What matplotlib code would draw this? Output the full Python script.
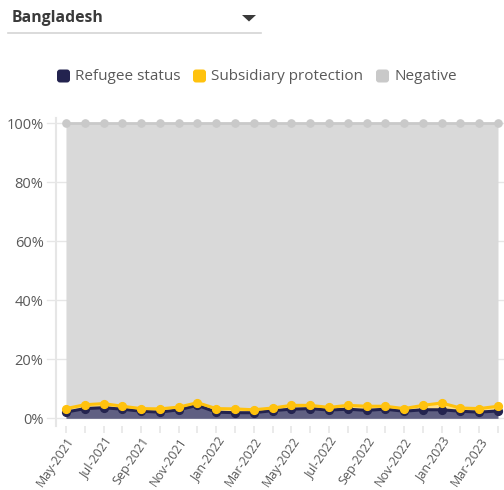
import matplotlib
matplotlib.use('Agg')
import matplotlib.pyplot as plt
from matplotlib.lines import Line2D
from matplotlib.patches import Polygon, FancyBboxPatch
import numpy as np

# Monthly decision shares (%) for Bangladesh
months = ['May-2021', 'Jun-2021', 'Jul-2021', 'Aug-2021', 'Sep-2021', 'Oct-2021',
          'Nov-2021', 'Dec-2021', 'Jan-2022', 'Feb-2022', 'Mar-2022', 'Apr-2022',
          'May-2022', 'Jun-2022', 'Jul-2022', 'Aug-2022', 'Sep-2022', 'Oct-2022',
          'Nov-2022', 'Dec-2022', 'Jan-2023', 'Feb-2023', 'Mar-2023', 'Apr-2023']
refugee = [2.1, 3.3, 3.6, 3.1, 2.4, 2.1, 2.9, 4.4, 2.1, 1.9, 1.9, 2.6,
           3.1, 3.3, 2.8, 3.1, 2.7, 3.1, 2.4, 2.9, 2.9, 2.4, 2.1, 2.5]
subsidiary = [1.2, 1.3, 1.4, 1.0, 0.9, 1.1, 0.9, 0.9, 1.2, 1.3, 1.0, 0.9,
              1.3, 1.1, 0.9, 1.3, 1.4, 1.0, 0.9, 1.5, 2.3, 1.1, 1.2, 1.6]
negative = [100 - r - s for r, s in zip(refugee, subsidiary)]
yticks = [0, 20, 40, 60, 80, 100]

c_ref = '#23234f'
c_ref_fill = '#5f5f82'
c_sub = '#ffc20e'
c_neg = '#c9c9c9'
c_neg_fill = '#d9d9d9'
c_text = '#595959'
c_grid = '#e6e6e6'

plt.rcParams['font.family'] = ['Open Sans', 'DejaVu Sans']

W, H = 504, 490
fig = plt.figure(figsize=(W / 100, H / 100), dpi=100)

# axes placement in pixels
x0_px, x1_px = 56, 504
y_top_px, y_bot_px = 118.3, 425.7
ax = fig.add_axes([x0_px / W, 1 - y_bot_px / H, (x1_px - x0_px) / W, (y_bot_px - y_top_px) / H])

x = np.arange(len(months))
ref = np.array(refugee)
top = ref + np.array(subsidiary)
full = top + np.array(negative)

ax.set_xlim(-0.53, len(months) - 1 + 0.32)
ax.set_ylim(-2.5, 101.7)

for yv in yticks:
    ax.plot([-1.0, len(months)], [yv, yv], color=c_grid, lw=1, zorder=0, clip_on=False)

ax.fill_between(x, top, full, color=c_neg_fill, lw=0, zorder=1)
ax.fill_between(x, ref, top, color=c_sub, alpha=0.5, lw=0, zorder=1)
ax.fill_between(x, 0, ref, color=c_ref_fill, lw=0, zorder=1)

ax.plot(x, full, color=c_neg, lw=2, marker='o', ms=5.2, zorder=3, clip_on=False)
ax.plot(x, ref, color=c_ref, lw=2.2, marker='o', ms=5.6, zorder=4, clip_on=False)
ax.plot(x, top, color=c_sub, lw=2.2, marker='o', ms=5.6, zorder=5, clip_on=False)

for s in ['top', 'right', 'bottom']:
    ax.spines[s].set_visible(False)
ax.spines['left'].set_color(c_grid)
ax.spines['left'].set_linewidth(1.5)

ax.set_yticks(yticks)
ax.set_yticklabels([f'{v}%' for v in yticks], fontsize=10.5, color=c_text)
ax.tick_params(axis='y', length=0, pad=9)

ax.set_xticks(x)
ax.set_xticklabels([m if i % 2 == 0 else '' for i, m in enumerate(months)],
                   rotation=56, ha='right', rotation_mode='anchor', fontsize=9, color=c_text)
ax.tick_params(axis='x', length=5, color=c_grid, width=1.2, pad=1.5)

# dropdown header
fig.text(12 / W, 1 - 18 / H, 'Bangladesh', fontsize=11.3, fontweight='bold', color='#3a3a3a', va='center')
fig.add_artist(Line2D([8 / W, 261 / W], [1 - 33 / H, 1 - 33 / H], color='#d4d4d4', lw=1.2))
fig.add_artist(Polygon([[242 / W, 1 - 15 / H], [256 / W, 1 - 15 / H], [249 / W, 1 - 21.5 / H]],
                       closed=True, color='#3a3a3a', lw=0))

# legend
items = [('Refugee status', c_ref, 57), ('Subsidiary protection', c_sub, 193), ('Negative', c_neg, 376)]
ly = 76
for label, col, px in items:
    fig.add_artist(FancyBboxPatch((px / W, 1 - (ly + 6.5) / H), 13 / W, 13 / H,
                                  boxstyle='round,pad=0,rounding_size=0.006', color=col, lw=0))
    fig.text((px + 18) / W, 1 - ly / H, label, fontsize=11, color=c_text, va='center')

fig.savefig('out.png', dpi=100)
